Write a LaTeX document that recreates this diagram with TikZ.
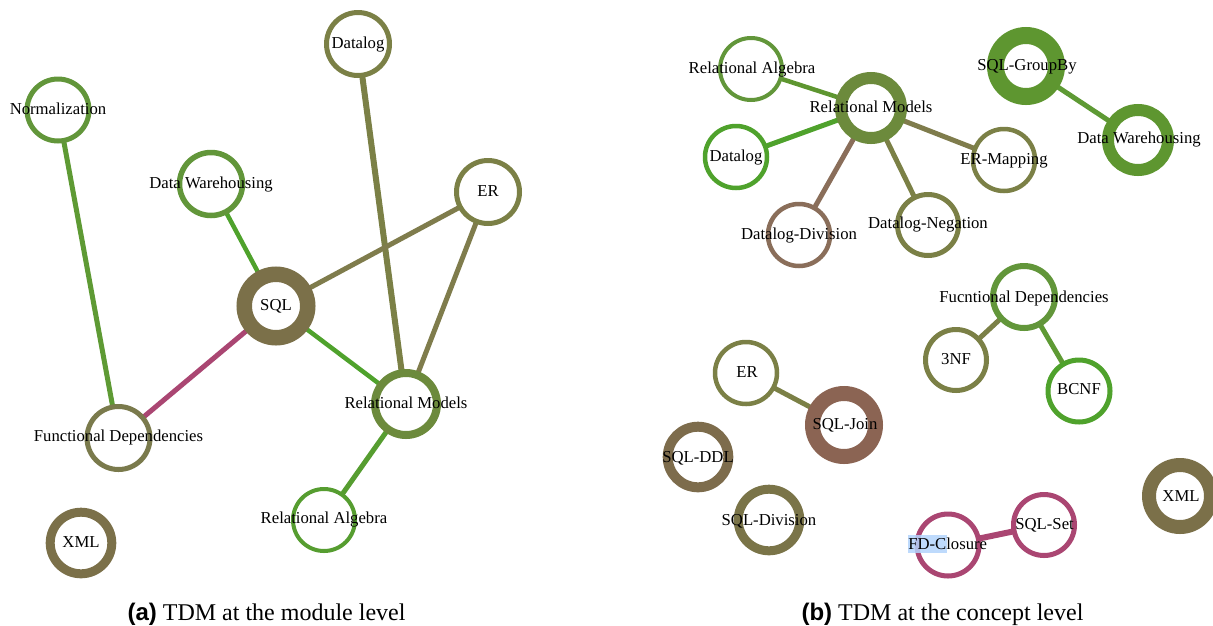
\documentclass[tikz,border=0pt]{standalone}
\usepackage{fontspec}
\setmainfont{Liberation Serif}
\newfontfamily\capsans{Liberation Sans}
\pgfdeclarelayer{background}
\pgfsetlayers{background,main}
\definecolor{olbrown}{HTML}{7B7049}
\definecolor{olive}{HTML}{7B8046}
\definecolor{olivee}{HTML}{7F7C4C}
\definecolor{midgreen}{HTML}{62963A}
\definecolor{brgreen}{HTML}{4FA22C}
\definecolor{edgegreen}{HTML}{5E9A34}
\definecolor{rmgreen}{HTML}{6C8A3C}
\definecolor{fdolive}{HTML}{7A7A4C}
\definecolor{magent}{HTML}{AA4672}
\definecolor{ddivbrown}{HTML}{8A6E5A}
\definecolor{joinbrown}{HTML}{8B6453}
\definecolor{ddlbrown}{HTML}{7D6C4C}
\definecolor{sdivolive}{HTML}{7A7448}
\definecolor{gbgreen}{HTML}{5E9630}
\definecolor{selblue}{HTML}{B3D4FC}
\tikzset{
  ring/.style n args={3}{circle, draw=#1, line width=#2, minimum size=#3, inner sep=0pt, outer sep=0pt, fill=white},
  lbl/.style={inner sep=0pt, font=\fontsize{16.7}{20}\selectfont, text=black, text height=11pt, text depth=0pt},
  link/.style n args={2}{draw=#1, line width=#2},
  capt/.style={anchor=base, inner sep=0pt, font=\fontsize{24}{28}\selectfont}
}
\begin{document}
\begin{tikzpicture}[x=1pt,y=-1pt]
\useasboundingbox (0,0) rectangle (1213,625);
% ---------- left panel: circles ----------
\node[ring={olive}{5pt}{63pt}] (datalogL) at (358,44) {};
\node[ring={midgreen}{5pt}{62pt}] (normL) at (58,110) {};
\node[ring={midgreen}{5.5pt}{63pt}] (dwL) at (211,184) {};
\node[ring={olbrown}{15.5pt}{63.5pt}] (sqlL) at (276,306) {};
\node[ring={olive}{5pt}{63pt}] (erL) at (488,192) {};
\node[ring={rmgreen}{8pt}{62pt}] (rmL) at (406,404) {};
\node[ring={fdolive}{5pt}{63pt}] (fdL) at (118.5,438) {};
\node[ring={brgreen!85!olive}{4pt}{62pt}] (raL) at (324,520) {};
\node[ring={olbrown}{9pt}{61.6pt}] (xmlL) at (81,543) {};
% ---------- right panel: circles ----------
\node[ring={midgreen}{4pt}{62pt}] (raR) at (751,69) {};
\node[ring={rmgreen}{12pt}{60pt}] (rmR) at (871,108) {};
\node[ring={brgreen}{4.5pt}{62pt}] (datalogR) at (736,157) {};
\node[ring={gbgreen}{17pt}{61pt}] (gbR) at (1026,66) {};
\node[ring={gbgreen}{12pt}{60pt}] (dwR) at (1138,140) {};
\node[ring={olive}{4.5pt}{62pt}] (ermR) at (1004,160) {};
\node[ring={ddivbrown}{4.5pt}{62pt}] (ddivR) at (799,235) {};
\node[ring={olive}{5pt}{61pt}] (dnegR) at (928,225) {};
\node[ring={midgreen}{6pt}{62pt}] (fdR) at (1024,297) {};
\node[ring={olive}{5pt}{61pt}] (nf3R) at (956,360) {};
\node[ring={brgreen}{5pt}{62pt}] (bcnfR) at (1079,391) {};
\node[ring={olive}{4.5pt}{62pt}] (erR) at (746,373) {};
\node[ring={joinbrown}{15pt}{63pt}] (joinR) at (844,425) {};
\node[ring={ddlbrown}{10pt}{60.6pt}] (ddlR) at (698,457) {};
\node[ring={sdivolive}{9pt}{61.6pt}] (sdivR) at (769,520) {};
\node[ring={magent}{5pt}{62pt}] (fdcR) at (948,545) {};
\node[ring={magent}{5pt}{61pt}] (setR) at (1044,525) {};
\node[ring={olbrown}{14pt}{62pt}] (xmlR) at (1180,496) {};
% ---------- connectors (behind circles) ----------
\begin{pgfonlayer}{background}
\draw[link={edgegreen}{5pt}] (normL.center) -- (fdL.center);
\draw[link={brgreen}{4.5pt}] (dwL.center) -- (sqlL.center);
\draw[link={olive}{6pt}] (datalogL.center) -- (rmL.center);
\draw[link={olivee}{5pt}] (sqlL.center) -- (erL.center);
\draw[link={olivee}{5pt}] (erL.center) -- (rmL.center);
\draw[link={brgreen}{4.5pt}] (sqlL.center) -- (rmL.center);
\draw[link={magent}{5pt}] (sqlL.center) -- (fdL.center);
\draw[link={brgreen!85!olive}{5pt}] (rmL.center) -- (raL.center);
\draw[link={gbgreen}{4.5pt}] (raR.center) -- (rmR.center);
\draw[link={brgreen}{5pt}] (datalogR.center) -- (rmR.center);
\draw[link={olivee}{5pt}] (rmR.center) -- (ermR.center);
\draw[link={ddivbrown}{5pt}] (rmR.center) -- (ddivR.center);
\draw[link={olive}{5pt}] (rmR.center) -- (dnegR.center);
\draw[link={edgegreen}{5pt}] (gbR.center) -- (dwR.center);
\draw[link={olive}{5pt}] (fdR.center) -- (nf3R.center);
\draw[link={edgegreen}{5pt}] (fdR.center) -- (bcnfR.center);
\draw[link={olive}{5pt}] (erR.center) -- (joinR.center);
\draw[link={magent}{6pt}] (fdcR.center) -- (setR.center);
\end{pgfonlayer}
% selection highlight behind "FD-Cl"
\fill[selblue, opacity=0.85] (908.3,535) rectangle (947.3,553.3);
% ---------- labels ----------
\node[lbl] (datalogLt) at (358,43) {Datalog};
\node[lbl] (normLt) at (58,109) {Normalization};
\node[lbl] (dwLt) at (211,183) {Data Warehousing};
\node[lbl] (sqlLt) at (276,305) {SQL};
\node[lbl] (erLt) at (488,191) {ER};
\node[lbl] (rmLt) at (406,403) {Relational Models};
\node[lbl] (fdLt) at (118.5,436) {Functional Dependencies};
\node[lbl] (raLt) at (324,518) {Relational Algebra};
\node[lbl] (xmlLt) at (81,542) {XML};
\node[lbl] (raRt) at (752,68) {Relational Algebra};
\node[lbl] (rmRt) at (871,107) {Relational Models};
\node[lbl] (datalogRt) at (736,156) {Datalog};
\node[lbl] (gbRt) at (1027,65) {SQL-GroupBy};
\node[lbl] (dwRt) at (1139,138) {Data Warehousing};
\node[lbl] (ermRt) at (1004,159) {ER-Mapping};
\node[lbl] (ddivRt) at (799,234) {Datalog-Division};
\node[lbl] (dnegRt) at (928,223) {Datalog-Negation};
\node[lbl] (fdRt) at (1024,297) {Fucntional Dependencies};
\node[lbl] (nf3Rt) at (956,359) {3NF};
\node[lbl] (bcnfRt) at (1079,389) {BCNF};
\node[lbl] (erRt) at (747,372) {ER};
\node[lbl] (joinRt) at (845,424) {SQL-Join};
\node[lbl] (ddlRt) at (698,457) {SQL-DDL};
\node[lbl] (sdivRt) at (769,520) {SQL-Division};
\node[lbl] (fdcRt) at (947.7,544) {FD-Closure};
\node[lbl] (setRt) at (1044.6,524) {SQL-Set};
\node[lbl] (xmlRt) at (1181,496) {XML};
% ---------- captions ----------
\node[capt] (capa) at (266.5,620) {{\capsans\bfseries (a)} TDM at the module level};
\node[capt] (capb) at (942.5,620) {{\capsans\bfseries (b)} TDM at the concept level};
\end{tikzpicture}
\end{document}
